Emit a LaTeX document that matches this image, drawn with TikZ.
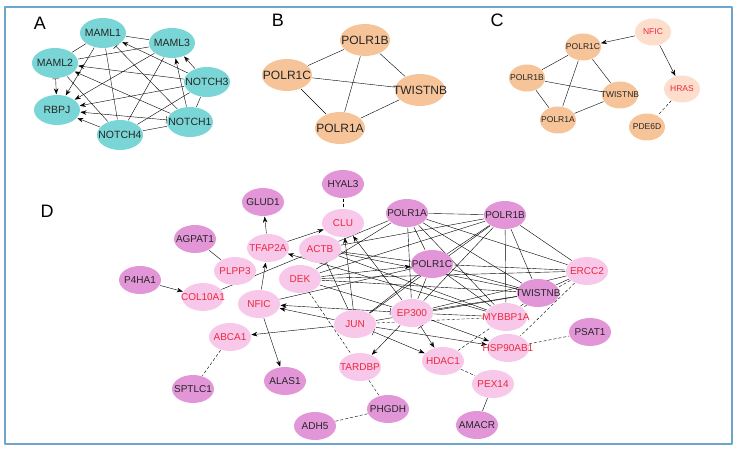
\documentclass[tikz,border=0pt]{standalone}
\usepackage{fontspec}
\setmainfont{Liberation Sans}
\usetikzlibrary{shapes.geometric,arrows.meta,backgrounds}
\definecolor{tealA}{RGB}{122,214,214}
\definecolor{peach}{RGB}{246,196,152}
\definecolor{peachL}{RGB}{253,222,205}
\definecolor{plumD}{RGB}{226,150,216}
\definecolor{pinkL}{RGB}{248,200,234}
\definecolor{redtxt}{RGB}{238,40,60}
\definecolor{frameblue}{RGB}{110,165,205}
\newcommand\lbl[1]{\makebox[0pt]{#1}}
\begin{document}
\begin{tikzpicture}[x=1pt, y=-1pt, line join=round, line cap=round, line width=1.3pt,
  >={Stealth[length=6pt,width=4.5pt]},
  nd/.style={ellipse, inner sep=0pt, text=black!85},
  gA/.style={nd, fill=tealA, minimum width=46, minimum height=30, font=\fontsize{10.5}{10.5}\selectfont},
  gB/.style={nd, fill=peach, minimum width=50, minimum height=32, font=\fontsize{12}{12}\selectfont},
  gC/.style={nd, fill=peach, minimum width=36, minimum height=27, font=\fontsize{8.5}{8.5}\selectfont},
  gCl/.style={gC, fill=peachL, text=redtxt},
  gD/.style={nd, fill=plumD, minimum width=42, minimum height=28, font=\fontsize{10}{10}\selectfont},
  gDl/.style={gD, fill=pinkL, text=redtxt},
  panel/.style={font=\fontsize{18}{18}\selectfont},
  act/.style={->}, inh/.style={-{Bar[width=7pt]}},
  bact/.style={{Bar[width=7pt]}->},
  dsh/.style={dash pattern=on 3pt off 2pt, line cap=butt}]
\useasboundingbox (0,0) rectangle (740,452);
\draw[frameblue, line width=1.4pt] (5,7) rectangle (732,444);

% A
\node[panel] at (40,23) {A};
\node[gA] (MAML1) at (103,33) {\lbl{MAML1}};
\node[gA] (MAML3) at (172,43) {\lbl{MAML3}};
\node[gA] (MAML2) at (55,63) {\lbl{MAML2}};
\node[gA] (NOTCH3) at (207,82) {\lbl{NOTCH3}};
\node[gA] (RBPJ) at (57,110) {\lbl{RBPJ}};
\node[gA] (NOTCH1) at (190,122) {\lbl{NOTCH1}};
\node[gA] (NOTCH4) at (120,135) {\lbl{NOTCH4}};
\begin{scope}[on background layer]
\draw (MAML1) -- (MAML3);
\draw (MAML1) -- (MAML2);
\draw[act] (MAML1) -- (RBPJ);
\draw (MAML1) -- (NOTCH4);
\draw[inh] (NOTCH1) -- (MAML1);
\draw[act] (NOTCH3) -- (MAML1);
\draw (MAML3) -- (MAML2);
\draw[act] (MAML3) -- (RBPJ);
\draw (MAML3) -- (NOTCH4);
\draw[act] (NOTCH1) -- (MAML3);
\draw[act] (NOTCH3) -- (MAML3);
\draw[bact] (MAML2) -- (RBPJ);
\draw[act] (NOTCH3) -- (MAML2);
\draw[act] (NOTCH1) -- (MAML2);
\draw (MAML2) -- (NOTCH4);
\draw[act] (NOTCH3) -- (RBPJ);
\draw[bact] (NOTCH1) -- (RBPJ);
\draw[act] (NOTCH4) -- (RBPJ);
\draw (NOTCH3) -- (NOTCH1);
\draw (NOTCH3) -- (NOTCH4);
\draw (NOTCH1) -- (NOTCH4);
\end{scope}

% B
\node[panel] at (278,20) {B};
\node[gB] (bPOLR1B) at (365,40) {\lbl{POLR1B}};
\node[gB] (bPOLR1C) at (287,75) {\lbl{POLR1C}};
\node[gB] (bTWISTNB) at (420,90) {\lbl{TWISTNB}};
\node[gB] (bPOLR1A) at (340,128) {\lbl{POLR1A}};
\begin{scope}[on background layer]
\draw (bPOLR1B) -- (bPOLR1C);
\draw (bPOLR1B) -- (bTWISTNB);
\draw (bPOLR1B) -- (bPOLR1A);
\draw (bPOLR1C) -- (bTWISTNB);
\draw (bPOLR1C) -- (bPOLR1A);
\draw (bPOLR1A) -- (bTWISTNB);
\end{scope}

% C
\node[panel] at (497,20) {C};
\node[gCl] (cNFIC) at (653,32) {\lbl{NFIC}};
\node[gC] (cPOLR1C) at (583,47) {\lbl{POLR1C}};
\node[gC] (cPOLR1B) at (527,78) {\lbl{POLR1B}};
\node[gC] (cTWISTNB) at (620,95) {\lbl{TWISTNB}};
\node[gC] (cPOLR1A) at (558,120) {\lbl{POLR1A}};
\node[gCl] (cHRAS) at (682,89) {\lbl{HRAS}};
\node[gC] (cPDE6D) at (647,127) {\lbl{PDE6D}};
\begin{scope}[on background layer]
\draw[act] (cNFIC) -- (cPOLR1C);
\draw[act] (cNFIC) -- (cHRAS);
\draw[dsh] (cHRAS) -- (cPDE6D);
\draw (cPOLR1C) -- (cPOLR1B);
\draw (cPOLR1C) -- (cTWISTNB);
\draw (cPOLR1C) -- (cPOLR1A);
\draw (cPOLR1B) -- (cTWISTNB);
\draw (cPOLR1B) -- (cPOLR1A);
\draw (cPOLR1A) -- (cTWISTNB);
\end{scope}

% D
\node[panel] at (47,211) {D};
\node[gD] (GLUD1) at (263,202) {\lbl{GLUD1}};
\node[gD] (AGPAT1) at (195,239) {\lbl{AGPAT1}};
\node[gDl] (TFAP2A) at (268,248) {\lbl{TFAP2A}};
\node[gDl] (PLPP3) at (235,271) {\lbl{PLPP3}};
\node[gD] (P4HA1) at (140,280) {\lbl{P4HA1}};
\node[gDl] (COL10A1) at (203,297) {\lbl{COL10A1}};
\node[gDl] (NFIC) at (259,304) {\lbl{NFIC}};
\node[gD] (HYAL3) at (343,184) {\lbl{HYAL3}};
\node[gDl] (CLU) at (343,223) {\lbl{CLU}};
\node[gDl] (ACTB) at (320,249) {\lbl{ACTB}};
\node[gDl] (DEK) at (300,279) {\lbl{DEK}};
\node[gD] (POLR1A) at (407,213) {\lbl{POLR1A}};
\node[gD] (POLR1B) at (505,215) {\lbl{POLR1B}};
\node[gD] (POLR1C) at (432,264) {\lbl{POLR1C}};
\node[gDl] (ERCC2) at (587,271) {\lbl{ERCC2}};
\node[gD] (TWISTNB) at (538,293) {\lbl{TWISTNB}};
\node[gDl] (JUN) at (355,324) {\lbl{JUN}};
\node[gDl] (EP300) at (412,313) {\lbl{EP300}};
\node[gDl] (MYBBP1A) at (506,317) {\lbl{MYBBP1A}};
\node[gDl] (HSP90AB1) at (508,348) {\lbl{HSP90AB1}};
\node[gD] (PSAT1) at (590,332) {\lbl{PSAT1}};
\node[gDl] (HDAC1) at (443,361) {\lbl{HDAC1}};
\node[gDl] (TARDBP) at (360,367) {\lbl{TARDBP}};
\node[gD] (ALAS1) at (285,381) {\lbl{ALAS1}};
\node[gDl] (PEX14) at (493,384) {\lbl{PEX14}};
\node[gD] (PHGDH) at (388,409) {\lbl{PHGDH}};
\node[gD] (ADH5) at (315,426) {\lbl{ADH5}};
\node[gD] (AMACR) at (477,425) {\lbl{AMACR}};
\node[gDl] (ABCA1) at (230,337) {\lbl{ABCA1}};
\node[gD] (SPTLC1) at (193,389) {\lbl{SPTLC1}};
\begin{scope}[on background layer]
% outer links
\draw[act] (TFAP2A) -- (GLUD1);
\draw[dsh] (HYAL3) -- (CLU);
\draw[act] (TFAP2A) -- (CLU);
\draw (AGPAT1) -- (PLPP3);
\draw[act] (P4HA1) -- (COL10A1);
\draw (COL10A1) -- (ACTB);
\draw[act] (NFIC) -- (TFAP2A);
\draw[act] (NFIC) -- (ALAS1);
\draw[act] (JUN) -- (NFIC);
\draw[bact] (EP300) -- (NFIC);
\draw[act] (JUN) -- (ABCA1);
\draw[dsh] (ABCA1) -- (SPTLC1);
\draw[dsh] (DEK) -- (TARDBP);
\draw[dsh] (TARDBP) -- (PHGDH);
\draw[dsh] (PHGDH) -- (ADH5);
\draw[act] (EP300) -- (TARDBP);
\draw[bact] (JUN) -- (HDAC1);
\draw[bact] (EP300) -- (HDAC1);
\draw[act] (JUN) -- (HSP90AB1);
\draw[act] (EP300) -- (HSP90AB1);
\draw[dsh] (JUN) -- (MYBBP1A);
\draw[dsh] (HDAC1) -- (MYBBP1A);
\draw[dsh] (HDAC1) -- (PEX14);
\draw (PEX14) -- (AMACR);
\draw[dsh] (HSP90AB1) -- (PSAT1);
\draw[dsh] (ERCC2) -- (HSP90AB1);
\draw[dsh] (ERCC2) -- (MYBBP1A);
% core links
\draw (POLR1A) -- (POLR1B);
\draw (POLR1A) -- (POLR1C);
\draw (POLR1A) -- (TWISTNB);
\draw (POLR1B) -- (POLR1C);
\draw (POLR1B) -- (TWISTNB);
\draw (POLR1C) -- (TWISTNB);
\draw (POLR1A) -- (EP300);
\draw (POLR1A) -- (MYBBP1A);
\draw (POLR1A) -- (ERCC2);
\draw (POLR1A) -- (ACTB);
\draw (POLR1A) -- (DEK);
\draw (POLR1B) -- (ACTB);
\draw (POLR1B) -- (DEK);
\draw (POLR1B) -- (EP300);
\draw (POLR1B) -- (MYBBP1A);
\draw (POLR1B) -- (ERCC2);
\draw (POLR1B) -- (JUN);
\draw[act] (DEK) -- (POLR1C);
\draw[act] (JUN) -- (CLU);
\draw[act] (EP300) -- (CLU);
\draw[act] (MYBBP1A) -- (TFAP2A);
\draw (ACTB) -- (JUN);
\draw (ACTB) -- (TWISTNB);
\draw (ACTB) -- (MYBBP1A);
\draw (ACTB) -- (POLR1C);
\draw (DEK) -- (EP300);
\draw (DEK) -- (TWISTNB);
\draw (DEK) -- (ERCC2);
\draw (NFIC) -- (POLR1C);
\draw (JUN) -- (POLR1C);
\draw (JUN) -- (TWISTNB);
\draw (EP300) -- (POLR1C);
\draw (EP300) -- (MYBBP1A);
\draw (EP300) -- (TWISTNB);
\draw (EP300) -- (ERCC2);
\draw (MYBBP1A) -- (TWISTNB);
\draw (MYBBP1A) -- (POLR1C);
\draw (TWISTNB) -- (ERCC2);
\draw (POLR1C) -- (ERCC2);
\end{scope}
\end{tikzpicture}
\end{document}
